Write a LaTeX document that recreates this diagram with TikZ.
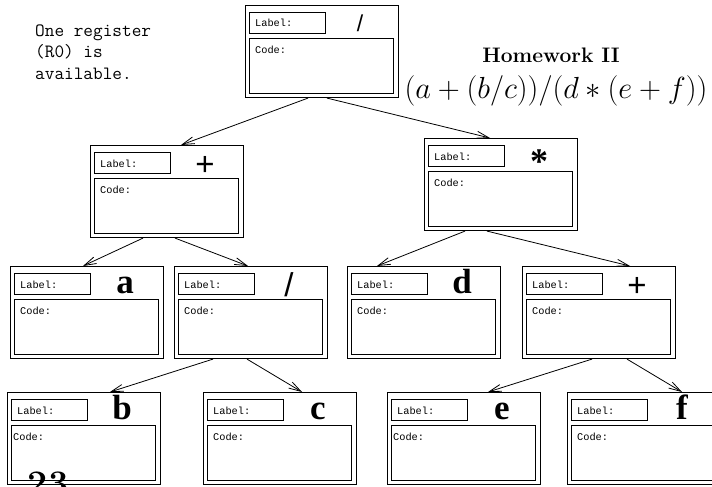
\documentclass[tikz,border=0pt]{standalone}
\usepackage{fix-cm}
\usepackage{fontspec}
\newfontfamily\codefont{Liberation Mono}
\newfontfamily\symserif{Liberation Serif}
\newfontfamily\symsans{Liberation Sans}
\usetikzlibrary{arrows.meta,calc}
\newcommand\treenode[6]{%
  \node[outerbox] (#1) at (#2,#3) {};
  \node[labelbox] (#1-lab) at (#2+4,#3+7) {};
  \node[codebox] (#1-code) at (#2+4,#3+33) {};
  \node[smalltt] (#1-lt) at (#2+10,#3+22) {Label:};
  \node[smalltt] (#1-ct) at (#2+#6,#3+48) {Code:};
  \node[#4] (#1-sym) at (#2+115,#3+27) {#5};
}
\begin{document}
\begin{tikzpicture}[x=1pt,y=-1pt,
  outerbox/.style={draw, line width=1.1pt, anchor=north west, minimum width=153pt, minimum height=92pt, inner sep=0pt},
  labelbox/.style={draw, line width=0.9pt, anchor=north west, minimum width=76pt, minimum height=21pt, inner sep=0pt},
  codebox/.style={draw, line width=0.9pt, anchor=north west, minimum width=144pt, minimum height=55pt, inner sep=0pt},
  smalltt/.style={anchor=base west, inner sep=0pt, font=\codefont\fontsize{10.3}{12}\selectfont},
  letter/.style={anchor=base, inner sep=0pt, font=\symserif\bfseries\fontsize{35}{40}\selectfont},
  opbig/.style={anchor=base, inner sep=0pt, yshift=-3.5pt, font=\symsans\fontsize{33}{38}\selectfont},
  opsmall/.style={anchor=base, inner sep=0pt, font=\symsans\fontsize{23}{28}\selectfont},
  opstar/.style={anchor=base, inner sep=0pt, yshift=-8pt, font=\symserif\bfseries\fontsize{36}{40}\selectfont},
  noteline/.style={anchor=base west, inner sep=0pt, font=\ttfamily\fontsize{18.75}{21}\selectfont},
  arr/.style={-{Straight Barb[length=12pt,width=7pt]}, line width=0.8pt}]
\useasboundingbox (0,0) rectangle (712,487);
\clip (0,0) rectangle (712,487);

\node[noteline] (note1) at (35,37) {One register};
\node[noteline] (note2) at (35,58) {(R0) is};
\node[noteline] (note3) at (35,79) {available.};

\node[anchor=base, inner sep=0pt, font=\bfseries\fontsize{21}{25}\selectfont] (title) at (551,63) {Homework II};
\node[anchor=base, inner sep=0pt, font=\fontsize{30.5}{35}\selectfont] (expr) at (556,98) {$(a+(b/c))/(d*(e+f))$};

\treenode{root}{245}{5}{opsmall}{/}{10}
\treenode{plus}{90}{145}{opbig}{+}{10}
\treenode{star}{424}{138}{opstar}{*}{10}
\treenode{a}{10}{266}{letter}{a}{10}
\treenode{slash}{174}{266}{opbig}{/}{10}
\treenode{d}{347}{266}{letter}{d}{10}
\treenode{plusR}{522}{266}{opbig}{+}{10}
\treenode{b}{7}{392}{letter}{b}{6}
\treenode{c}{203}{392}{letter}{c}{10}
\treenode{e}{387}{392}{letter}{e}{6}
\treenode{f}{567}{392}{letter}{f}{10}

\draw[arr] ($(root.south west)+(63,0)$) -- ($(plus.north west)+(91,0)$);
\draw[arr] ($(root.south west)+(82,0)$) -- ($(star.north west)+(66,0)$);
\draw[arr] ($(plus.south west)+(53,0)$) -- ($(a.north west)+(73,0)$);
\draw[arr] ($(plus.south west)+(85,0)$) -- ($(slash.north west)+(74,0)$);
\draw[arr] ($(star.south west)+(41,0)$) -- ($(d.north west)+(30,0)$);
\draw[arr] ($(star.south west)+(63,0)$) -- ($(plusR.north west)+(108,0)$);
\draw[arr] ($(slash.south west)+(39,0)$) -- ($(b.north west)+(103,0)$);
\draw[arr] ($(slash.south west)+(73,0)$) -- ($(c.north west)+(99,0)$);
\draw[arr] ($(plusR.south west)+(70,0)$) -- ($(e.north west)+(101,0)$);
\draw[arr] ($(plusR.south west)+(105,0)$) -- ($(f.north west)+(115,0)$);

\node[anchor=base, inner sep=0pt, font=\bfseries\fontsize{36}{40}\selectfont] (pagenum) at (48,495) {23};
\end{tikzpicture}
\end{document}
